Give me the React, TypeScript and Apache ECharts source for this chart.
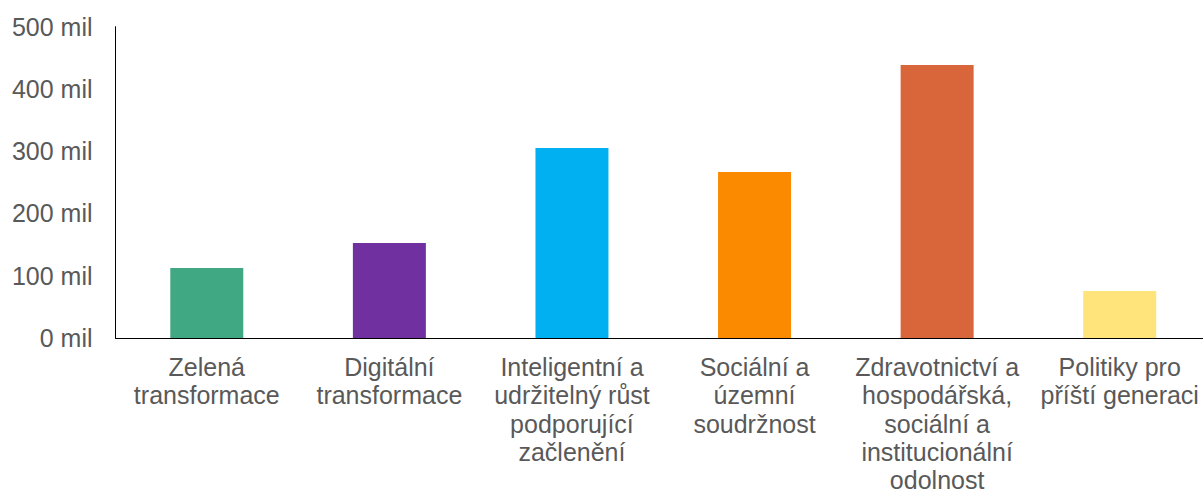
import React, { useEffect, useRef } from "react";
import * as echarts from "echarts";

const categories = [
  "Zelená\ntransformace",
  "Digitální\ntransformace",
  "Inteligentní a\nudržitelný růst\npodporující\nzačlenění",
  "Sociální a\núzemní\nsoudržnost",
  "Zdravotnictví a\nhospodářská,\nsociální a\ninstitucionální\nodolnost",
  "Politiky pro\npříští generaci",
];
const values = [112.5, 152.5, 305, 266.5, 438.5, 75.5];
const colors = ["#41A884", "#7030A0", "#00B0F0", "#FB8A00", "#D8663A", "#FEE47A"];
const yTicks = { min: 0, max: 500, interval: 100 };

export default function App() {
  const ref = useRef<HTMLDivElement>(null);
  useEffect(() => {
    if (!ref.current) return;
    const chart = echarts.init(ref.current, null, { renderer: "svg" });
    chart.setOption({
      animation: false,
      grid: {
        left: 115.5,
        top: 26.7,
        width: 1095.5,
        height: 311.3,
        containLabel: false,
        outerBoundsMode: "none",
      },
      xAxis: {
        type: "category",
        data: categories,
        axisTick: { show: false },
        axisLine: { show: true, lineStyle: { color: "#000", width: 1 } },
        axisLabel: {
          interval: 0,
          color: "#595959",
          fontFamily: "Liberation Sans, Arial, sans-serif",
          fontSize: 25,
          lineHeight: 28.2,
          margin: 15,
          hideOverlap: false,
        },
      },
      yAxis: {
        type: "value",
        min: yTicks.min,
        max: yTicks.max,
        interval: yTicks.interval,
        splitLine: { show: false },
        axisTick: { show: false },
        axisLine: { show: true, lineStyle: { color: "#000", width: 1 } },
        axisLabel: {
          formatter: "{value} mil",
          color: "#595959",
          fontFamily: "Liberation Sans, Arial, sans-serif",
          fontSize: 25,
          margin: 23,
        },
      },
      series: [
        {
          type: "bar",
          barWidth: 73,
          data: values.map((v, i) => ({ value: v, itemStyle: { color: colors[i] } })),
        },
      ],
    });
    return () => chart.dispose();
  }, []);
  return (
    <div
      ref={ref}
      style={{ position: "absolute", left: 0, top: 0, width: 1203, height: 494, background: "#fff" }}
    />
  );
}
